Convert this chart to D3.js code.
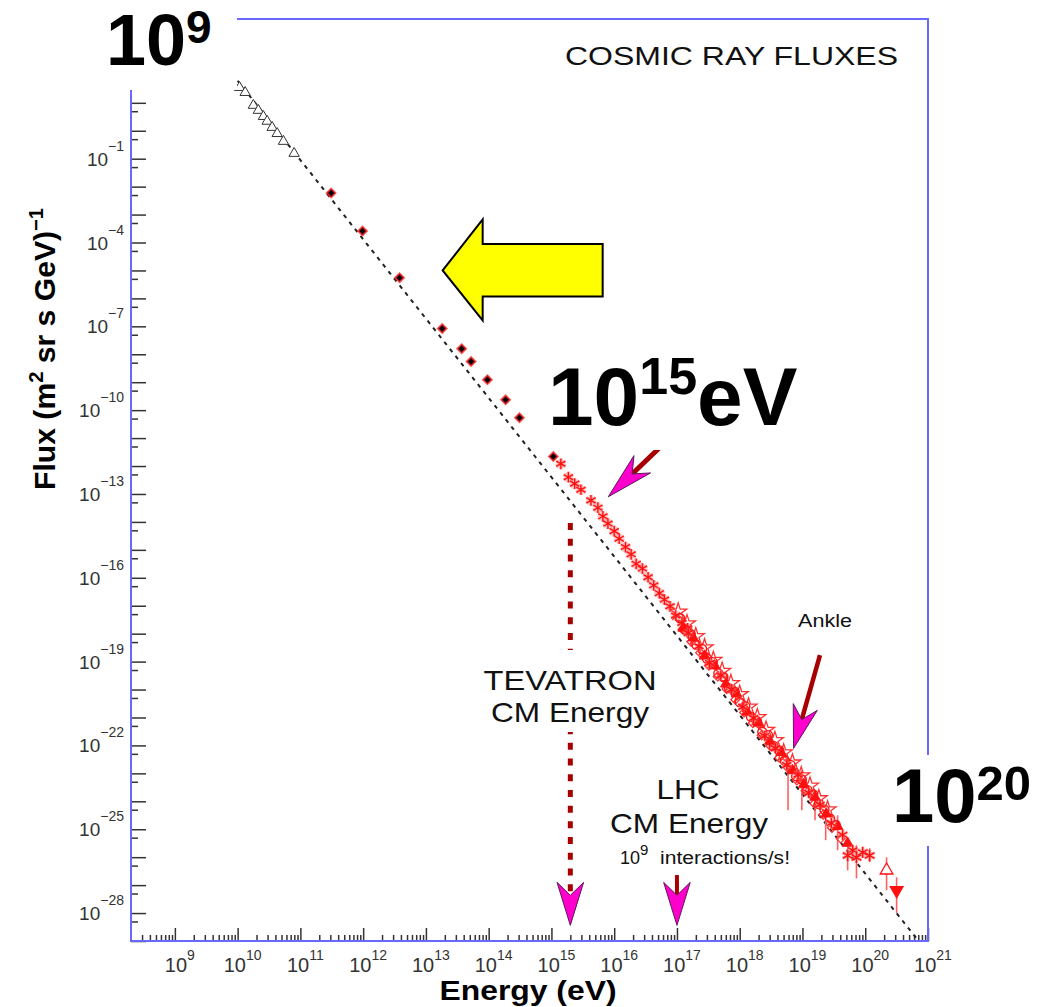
<!DOCTYPE html>
<html>
<head>
<meta charset="utf-8">
<script src="https://cdn.jsdelivr.net/npm/d3@7"></script>
<style>
  html, body { margin: 0; padding: 0; background: #fff; }
  svg { display: block; font-family: "Liberation Sans", Arial, Helvetica, sans-serif; }
</style>
</head>
<body>
<svg id="chart" width="1039" height="1007"></svg>
<script>
// ---- data: [log10 E (eV), log10 flux (m^-2 sr^-1 s^-1 GeV^-1)] ----
const lowEnergyTriangles = [
  [10.03, 1.55], [10.12, 1.37], [10.25, 0.91], [10.33, 0.73], [10.41, 0.51],
  [10.47, 0.34], [10.55, 0.12], [10.63, -0.10], [10.73, -0.38], [10.90, -0.81]
];
const directDiamonds = [
  [11.49, -2.23], [11.99, -3.59], [12.58, -5.26], [13.26, -7.08], [13.57, -7.80],
  [13.72, -8.26], [13.98, -8.91], [14.27, -9.63], [14.49, -10.27], [15.03, -11.66]
];
const kneeStars = [
  [15.15, -11.92], [15.27, -12.40], [15.37, -12.63], [15.47, -12.85], [15.63, -13.23],
  [15.74, -13.49], [15.82, -13.80], [15.90, -14.06], [16.00, -14.33], [16.08, -14.60],
  [16.18, -14.90], [16.27, -15.16], [16.35, -15.50], [16.45, -15.67], [16.54, -15.98],
  [16.63, -16.27], [16.72, -16.55], [16.80, -16.78], [16.89, -17.02], [16.98, -17.35],
  [17.08, -17.62], [17.17, -17.81]
];
const ankleCircles = [
  [17.05, -17.45], [17.14, -17.86], [17.22, -18.02], [17.31, -18.40], [17.40, -18.55],
  [17.48, -18.90], [17.57, -19.02], [17.66, -19.42], [17.74, -19.55], [17.83, -19.95],
  [17.92, -20.08], [18.00, -20.45], [18.09, -20.60], [18.18, -20.98], [18.27, -21.12],
  [18.36, -21.52], [18.45, -21.63], [18.54, -22.02], [18.63, -22.18], [18.72, -22.55],
  [18.81, -22.70], [18.90, -23.10], [18.99, -23.22], [19.08, -23.60], [19.17, -23.75],
  [19.26, -24.10], [19.35, -24.30], [19.44, -24.62], [19.53, -24.85]
];
const ankleTriangles = [
  [17.10, -17.80], [17.26, -18.15], [17.44, -18.80], [17.60, -19.15], [17.78, -19.80],
  [17.95, -20.15], [18.12, -20.80], [18.30, -21.20], [18.48, -21.85], [18.66, -22.25],
  [18.84, -22.90], [19.02, -23.40], [19.20, -23.85], [19.38, -24.45], [19.56, -24.90],
  [19.72, -25.50]
];
const ankleStars = [
  [17.18, -17.98], [17.35, -18.45], [17.52, -19.05], [17.70, -19.50], [17.87, -20.00],
  [18.05, -20.62], [18.22, -21.02], [18.40, -21.66], [18.57, -22.10], [18.75, -22.70],
  [18.93, -23.05], [19.10, -23.70], [19.28, -24.12], [19.46, -24.78], [19.64, -25.20],
  [19.80, -25.75]
];
const ankleOpenStars = [
  [17.02, -17.22], [17.16, -17.64], [17.30, -18.10], [17.44, -18.50], [17.58, -18.95],
  [17.72, -19.34], [17.86, -19.78], [18.00, -20.17], [18.14, -20.62], [18.28, -21.00],
  [18.42, -21.45], [18.56, -21.82], [18.70, -22.26], [18.84, -22.62], [18.98, -23.08],
  [19.12, -23.45], [19.26, -23.90], [19.40, -24.30]
];
const ankleSquares = [
  [17.09, -17.85], [17.23, -18.29], [17.37, -18.68], [17.51, -19.14], [17.65, -19.53],
  [17.79, -19.98], [17.93, -20.36], [18.07, -20.82], [18.21, -21.20], [18.35, -21.64],
  [18.49, -22.02], [18.63, -22.44], [18.77, -22.80], [18.91, -23.25], [19.05, -23.62],
  [19.19, -24.08], [19.33, -24.48], [19.47, -24.95], [19.61, -25.33]
];
// [log10 E, upper log10 flux, lower log10 flux]
const ankleErrorBars = [
  [18.77, -22.53, -24.32], [18.99, -22.89, -24.32], [19.20, -23.61, -24.68],
  [19.37, -24.25, -25.39], [19.56, -24.50, -25.75], [19.72, -25.40, -26.47],
  [19.86, -25.57, -26.76], [20.07, -25.68, -26.18]
];
const highEndStars = [[19.72, -25.94], [19.86, -26.01], [19.96, -25.83], [20.07, -25.94]];
// [log10 E, log10 flux, upper, lower]
const highEndOpenTriangle = [[20.34, -26.47, -26.00, -27.18]];
const highEndFilledTriangle = [[20.50, -27.19, -26.72, -28.00]];
// E^-2.84 reference power law, endpoints
const powerLawLine = [[10.00, 1.79], [20.85, -29.00]];

// ---- axis labels ----
const xTickExponents = [9, 10, 11, 12, 13, 14, 15, 16, 17, 18, 19, 20, 21];
const yTickExponents = [-1, -4, -7, -10, -13, -16, -19, -22, -25, -28];

// ---- annotation anchors (log10 E, log10 flux) ----
const tevatronArrow = { logE: 15.301, fromLogF: -14.04, tipLogF: -28.44 };
const lhcArrow = { logE: 17.0, fromLogF: -26.64, tipLogF: -28.44 };
const ankleArrow = { from: [19.279, -18.764], tip: [18.858, -22.106] };
const kneeArrow = { from: [17.05, -10.64], tip: [15.906, -13.10] };
const yellowArrowTip = [13.267, -5.0];

// ---- scales ----
const svg = d3.select("#chart");
const x = d3.scaleLog().domain([2e8, 1e21]).range([131, 928]);
const y = d3.scaleLog().domain([1e-29, 1e4]).range([941, 19]);
const px = d => x(Math.pow(10, d[0]));
const py = d => y(Math.pow(10, d[1]));
const X = e => x(Math.pow(10, e));
const Y = f => y(Math.pow(10, f));

const FRAME = "#6868ff";
const TICK = "#333";
const RED = "#ff1010";
const MAGENTA = "#ff00cc";
const DARKRED = "#a80000";

// ---- axes ----
const xMinor = [];
for (let n = 8; n <= 20; n++) for (let m = 2; m <= 9; m++) {
  const v = m * Math.pow(10, n);
  if (v > 2.05e8 && v < 1e21) xMinor.push(v);
}
const yMinor = [];
for (let n = -28; n <= 4; n++) yMinor.push(0.5 * Math.pow(10, n));
const yMajor = [];
for (let n = -29; n <= 4; n++) yMajor.push(Math.pow(10, n));

function styleAxis(g) {
  g.select(".domain").remove();
  g.selectAll(".tick line").attr("stroke", TICK).attr("stroke-width", 1.5);
  g.selectAll(".tick text").remove();
}
svg.append("g").attr("transform", "translate(0,941)")
  .call(d3.axisBottom(x).tickValues(xMinor).tickSizeInner(-6).tickSizeOuter(0)).call(styleAxis);
svg.append("g").attr("transform", "translate(0,941)")
  .call(d3.axisBottom(x).tickValues(xTickExponents.map(n => Math.pow(10, n))).tickSizeInner(-13).tickSizeOuter(0)).call(styleAxis);
svg.append("g").attr("transform", "translate(131,0)")
  .call(d3.axisLeft(y).tickValues(yMinor).tickSizeInner(-7).tickSizeOuter(0)).call(styleAxis);
svg.append("g").attr("transform", "translate(131,0)")
  .call(d3.axisLeft(y).tickValues(yMajor).tickSizeInner(-15).tickSizeOuter(0)).call(styleAxis);

// frame
const [x0, x1] = x.range(), [y0, y1] = y.range();
svg.append("rect").attr("x", x0).attr("y", y1).attr("width", x1 - x0).attr("height", y0 - y1)
  .attr("fill", "none").attr("stroke", FRAME).attr("stroke-width", 2);

// tick labels
const xl = svg.append("g").attr("fill", "#333");
xTickExponents.forEach(n => {
  const t = xl.append("text").attr("x", x(Math.pow(10, n)) + 5).attr("y", 972).attr("text-anchor", "middle");
  t.append("tspan").attr("font-size", 20).text("10");
  t.append("tspan").attr("font-size", 14).attr("dy", -12).text(n);
});
const yl = svg.append("g").attr("fill", "#333");
yTickExponents.forEach(n => {
  const t = yl.append("text").attr("x", 124).attr("y", y(Math.pow(10, n)) + 7).attr("text-anchor", "end");
  t.append("tspan").attr("font-size", 19).text("10");
  t.append("tspan").attr("font-size", 14).attr("dy", -15).text("\u2212" + Math.abs(n));
});

// ---- reference power law ----
svg.append("path")
  .attr("d", d3.line().x(px).y(py)(powerLawLine))
  .attr("fill", "none").attr("stroke", "#222").attr("stroke-width", 2).attr("stroke-dasharray", "4,5");

// ---- data markers ----
const sym = (type, size) => d3.symbol().type(type).size(size)();
const asterisk = d3.symbolAsterisk || d3.symbolCross;
const at = d => `translate(${px(d)},${py(d)})`;

svg.append("g").selectAll("path").data(lowEnergyTriangles).join("path")
  .attr("transform", at)
  .attr("d", sym(d3.symbolTriangle, 46))
  .attr("fill", "#fff").attr("stroke", "#333").attr("stroke-width", 1);

svg.append("g").selectAll("path").data(directDiamonds).join("path")
  .attr("transform", d => at(d) + " rotate(45)")
  .attr("d", sym(d3.symbolSquare, 38))
  .attr("fill", "#000").attr("stroke", "#ff2020").attr("stroke-opacity", 0.75).attr("stroke-width", 2);

function stars(data, size, halo) {
  const g = svg.append("g");
  g.selectAll("path.halo").data(data).join("path").attr("class", "halo")
    .attr("transform", at)
    .attr("d", sym(asterisk, size))
    .attr("fill", "none").attr("stroke", "#ff8080").attr("stroke-width", halo).attr("stroke-opacity", 0.55);
  g.selectAll("path.core").data(data).join("path").attr("class", "core")
    .attr("transform", at)
    .attr("d", sym(asterisk, size))
    .attr("fill", "none").attr("stroke", RED).attr("stroke-width", 1.4);
}
stars(kneeStars, 80, 4);

// error bars in the ankle region
svg.append("g").selectAll("line").data(ankleErrorBars).join("line")
  .attr("x1", d => X(d[0])).attr("x2", d => X(d[0]))
  .attr("y1", d => Y(d[1])).attr("y2", d => Y(d[2]))
  .attr("stroke", "#ff6060").attr("stroke-width", 1.6);

svg.append("g").selectAll("path").data(ankleOpenStars).join("path")
  .attr("transform", at)
  .attr("d", sym(d3.symbolStar, 90))
  .attr("fill", "none").attr("stroke", "#ff3030").attr("stroke-width", 1.3);
svg.append("g").selectAll("path").data(ankleSquares).join("path")
  .attr("transform", d => at(d) + " rotate(45)")
  .attr("d", sym(d3.symbolSquare, 40))
  .attr("fill", "none").attr("stroke", "#ff3030").attr("stroke-width", 1.3);
svg.append("g").selectAll("circle").data(ankleCircles).join("circle")
  .attr("cx", px).attr("cy", py).attr("r", 4.5)
  .attr("fill", "none").attr("stroke", RED).attr("stroke-width", 1.4);
svg.append("g").selectAll("path").data(ankleTriangles).join("path")
  .attr("transform", at)
  .attr("d", sym(d3.symbolTriangle, 50))
  .attr("fill", RED).attr("stroke", RED).attr("stroke-width", 1);
stars(ankleStars, 80, 3.5);
stars(highEndStars, 90, 3.5);

// highest-energy points with error bars
const hiG = svg.append("g");
[highEndOpenTriangle, highEndFilledTriangle].forEach((set, i) => {
  hiG.selectAll(null).data(set).join("line")
    .attr("x1", d => X(d[0])).attr("x2", d => X(d[0]))
    .attr("y1", d => Y(d[2])).attr("y2", d => Y(d[3]))
    .attr("stroke", "#ff6060").attr("stroke-width", 1.6);
  hiG.selectAll(null).data(set).join("path")
    .attr("transform", d => `${at(d)} rotate(${i ? 180 : 0})`)
    .attr("d", sym(d3.symbolTriangle, 70))
    .attr("fill", i ? RED : "#fff").attr("stroke", RED).attr("stroke-width", 1.3);
});

// ---- annotations ----
function stealthHead(tip, from, len, halfW, notch) {
  const dx = tip[0] - from[0], dy = tip[1] - from[1], L = Math.hypot(dx, dy);
  const ux = dx / L, uy = dy / L, nx = -uy, ny = ux;
  const bx = tip[0] - ux * len, by = tip[1] - uy * len;
  const nP = [tip[0] - ux * notch, tip[1] - uy * notch];
  return {
    path: `M${tip[0]},${tip[1]}L${bx + nx * halfW},${by + ny * halfW}L${nP[0]},${nP[1]}L${bx - nx * halfW},${by - ny * halfW}Z`,
    notch: nP
  };
}
function arrow(fromPx, tipPx, opts) {
  const head = stealthHead(tipPx, fromPx, opts.len, opts.halfW, opts.notch);
  svg.append("line")
    .attr("x1", fromPx[0]).attr("y1", fromPx[1]).attr("x2", head.notch[0]).attr("y2", head.notch[1])
    .attr("stroke", DARKRED).attr("stroke-width", opts.width)
    .attr("stroke-dasharray", opts.dash || null);
  svg.append("path").attr("d", head.path)
    .attr("fill", MAGENTA).attr("stroke", "#5a1a5a").attr("stroke-width", 1);
}
arrow([X(tevatronArrow.logE), Y(tevatronArrow.fromLogF)], [X(tevatronArrow.logE), Y(tevatronArrow.tipLogF)],
  { len: 43, halfW: 13.3, notch: 30, width: 5, dash: "7,8.7" });
arrow([X(lhcArrow.logE), Y(lhcArrow.fromLogF)], [X(lhcArrow.logE), Y(lhcArrow.tipLogF)],
  { len: 43, halfW: 13.3, notch: 30, width: 4 });
arrow([px(ankleArrow.from), py(ankleArrow.from)], [px(ankleArrow.tip), py(ankleArrow.tip)],
  { len: 43, halfW: 12.5, notch: 30, width: 4.5 });
arrow([px(kneeArrow.from), py(kneeArrow.from)], [px(kneeArrow.tip), py(kneeArrow.tip)],
  { len: 47, halfW: 12, notch: 33, width: 5 });

// big yellow arrow
{
  const tx = px(yellowArrowTip), ty = py(yellowArrowTip);
  const pts = [[tx, ty], [tx + 40, ty - 51], [tx + 40, ty - 26.5], [tx + 160, ty - 26.5],
               [tx + 160, ty + 26], [tx + 40, ty + 26], [tx + 40, ty + 50]];
  svg.append("path").attr("d", d3.line()(pts) + "Z")
    .attr("fill", "#ffff00").attr("stroke", "#000").attr("stroke-width", 2).attr("stroke-linejoin", "miter");
}

// white backgrounds behind the large labels
const boxes = [[0, 0, 237, 90], [888, 755, 151, 91], [535, 335, 280, 115], [480, 650, 180, 82]];
svg.append("g").selectAll("rect").data(boxes).join("rect")
  .attr("x", d => d[0]).attr("y", d => d[1]).attr("width", d => d[2]).attr("height", d => d[3])
  .attr("fill", "#fff");

// ---- texts ----
function supText(xp, yp, base, sup, size, supSize, dy, extra) {
  const t = svg.append("text").attr("x", xp).attr("y", yp).attr("font-weight", "bold").attr("fill", "#000");
  t.append("tspan").attr("font-size", size).text(base);
  t.append("tspan").attr("font-size", supSize).attr("dy", -dy).text(sup);
  if (extra) t.append("tspan").attr("font-size", size).attr("dy", dy).text(extra);
  return t;
}
supText(106, 65, "10", "9", 72, 46, 22);
supText(892, 822, "10", "20", 76, 49, 22);
supText(548, 425, "10", "15", 82, 52, 31, "eV");

svg.append("text").attr("x", 565).attr("y", 65).attr("font-size", 25).attr("fill", "#111")
  .attr("textLength", 333).attr("lengthAdjust", "spacingAndGlyphs").text("COSMIC RAY FLUXES");

function label(txt, cx, yb, size, len) {
  svg.append("text").attr("x", cx).attr("y", yb).attr("font-size", size).attr("text-anchor", "middle")
    .attr("fill", "#111").attr("textLength", len).attr("lengthAdjust", "spacingAndGlyphs").text(txt);
}
label("Ankle", 825, 627, 18, 54);
label("TEVATRON", 570, 690, 28, 173);
label("CM Energy", 570, 722, 28, 158);
label("LHC", 688, 799, 28, 63);
label("CM Energy", 689, 833, 28, 158);
{
  const t = svg.append("text").attr("x", 620).attr("y", 864).attr("fill", "#111");
  t.append("tspan").attr("font-size", 18).text("10");
  t.append("tspan").attr("font-size", 15).attr("dy", -9).text("9");
  svg.append("text").attr("x", 660).attr("y", 864).attr("font-size", 18).attr("fill", "#111")
    .attr("textLength", 130).attr("lengthAdjust", "spacingAndGlyphs").text("interactions/s!");
}

// axis titles
svg.append("text").attr("x", 528).attr("y", 1000).attr("text-anchor", "middle")
  .attr("font-size", 28).attr("font-weight", "bold")
  .attr("textLength", 177).attr("lengthAdjust", "spacingAndGlyphs").text("Energy (eV)");
{
  const t = svg.append("text").attr("transform", "translate(55,349) rotate(-90)")
    .attr("text-anchor", "middle").attr("font-size", 30).attr("font-weight", "bold")
    .attr("textLength", 282).attr("lengthAdjust", "spacingAndGlyphs");
  t.append("tspan").text("Flux (m");
  t.append("tspan").attr("font-size", 20).attr("dy", -12).text("2");
  t.append("tspan").attr("dy", 12).text(" sr s GeV)");
  t.append("tspan").attr("font-size", 20).attr("dy", -12).text("\u22121");
}
</script>
</body>
</html>
